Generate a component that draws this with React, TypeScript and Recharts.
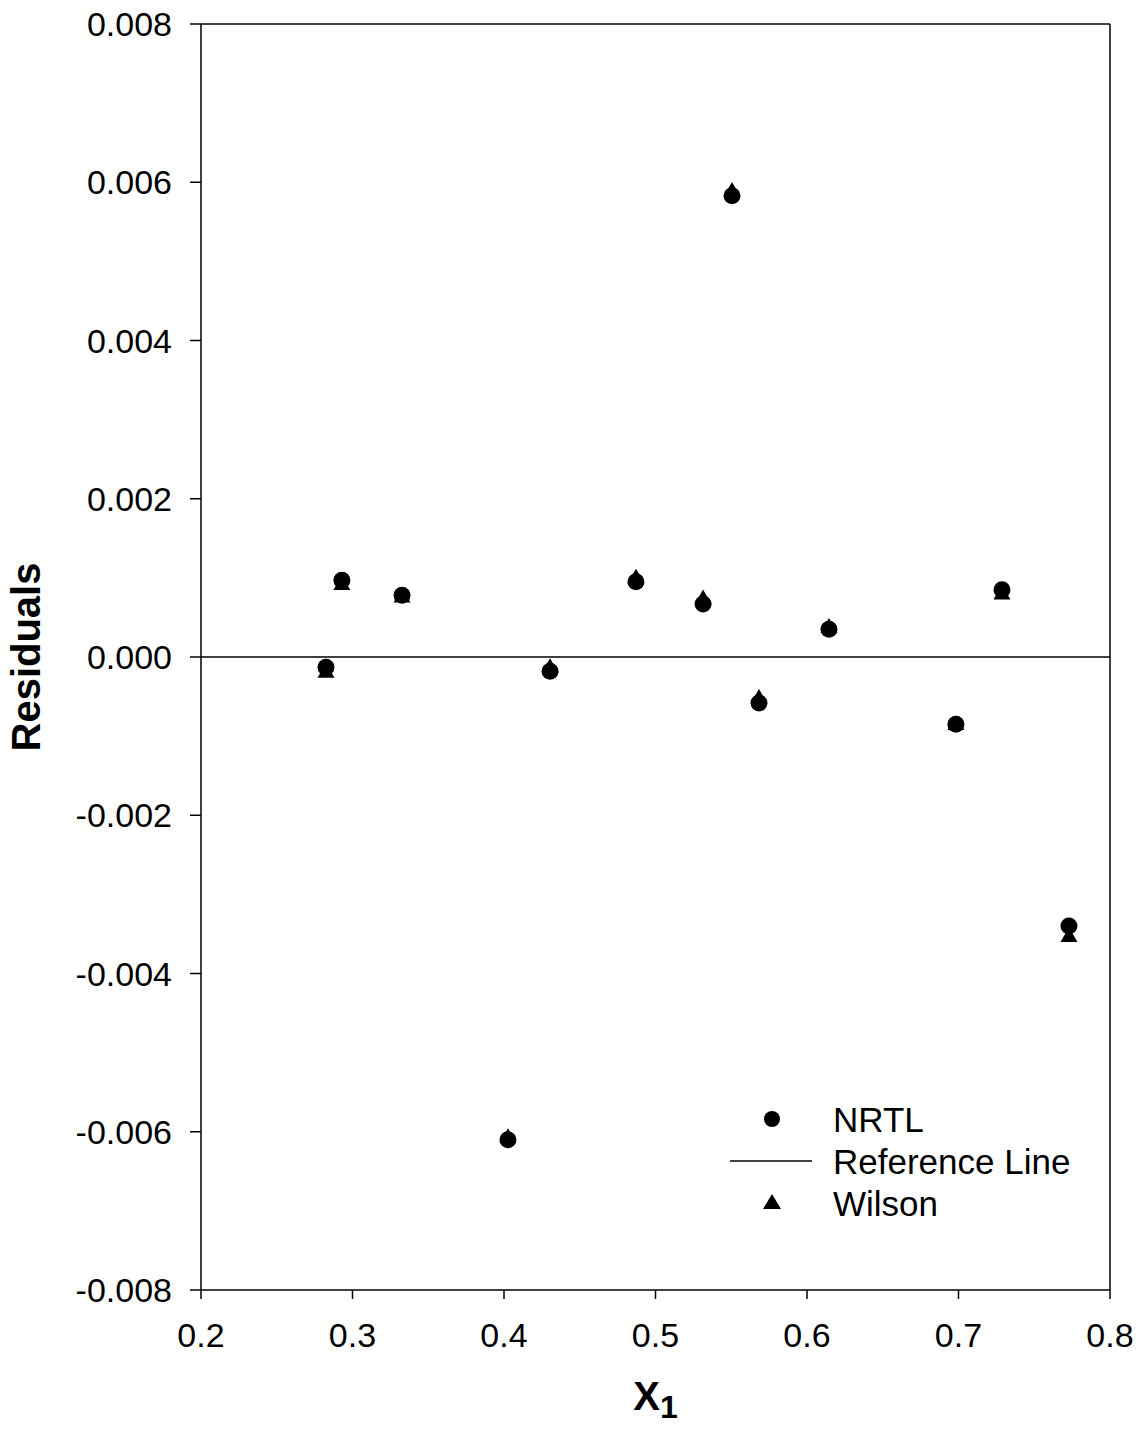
import React from 'react';
import {
  ScatterChart,
  Scatter,
  XAxis,
  YAxis,
  ReferenceLine,
} from 'recharts';

// mole fraction of component 1
const x1 = [0.2825, 0.293, 0.3327, 0.4026, 0.4304, 0.4871, 0.5314, 0.5505, 0.5683, 0.6145, 0.6983, 0.7287, 0.7729];
const nrtlResiduals = [-0.00013, 0.00097, 0.00078, -0.0061, -0.00018, 0.00095, 0.00067, 0.00583, -0.00058, 0.00035, -0.00085, 0.00085, -0.0034];
const wilsonResiduals = [-0.0002, 0.00091, 0.00075, -0.00608, -0.00014, 0.00099, 0.00073, 0.00588, -0.00053, 0.00037, -0.00086, 0.00079, -0.00354];

const xTicks = [0.2, 0.3, 0.4, 0.5, 0.6, 0.7, 0.8];
const yTicks = [-0.008, -0.006, -0.004, -0.002, 0, 0.002, 0.004, 0.006, 0.008];
const legendItems = ['NRTL', 'Reference Line', 'Wilson'];

const nrtlData = x1.map((x, i) => ({ x, y: nrtlResiduals[i] }));
const wilsonData = x1.map((x, i) => ({ x, y: wilsonResiduals[i] }));

const FONT = 'Arial, "Liberation Sans", sans-serif';
const tickStyle = { fontSize: 34, fill: '#000', fontFamily: FONT };

function Dot({ cx, cy }: { cx?: number; cy?: number }) {
  return <circle cx={cx} cy={cy} r={8.5} fill="#000" />;
}

function Tri({ cx, cy }: { cx?: number; cy?: number }) {
  if (cx == null || cy == null) return null;
  const s = 17;
  const h = (s * Math.sqrt(3)) / 2;
  const pts = `${cx},${cy - (2 * h) / 3} ${cx - s / 2},${cy + h / 3} ${cx + s / 2},${cy + h / 3}`;
  return <polygon points={pts} fill="#000" />;
}

// legend sits inside the plot, bottom right
function LegendBox() {
  return (
    <svg width={360} height={130} style={{ position: 'absolute', left: 725, top: 1095, overflow: 'visible' }}>
      {legendItems.map((name, i) => {
        const y = 24 + i * 42;
        return (
          <g key={name}>
            {i === 0 && <circle cx={47} cy={y} r={8} fill="#000" />}
            {i === 1 && <line x1={5} x2={87} y1={y} y2={y} stroke="#000" strokeWidth={1.5} />}
            {i === 2 && <polygon points={`47,${y - 9} 38,${y + 6} 56,${y + 6}`} fill="#000" />}
            <text x={108} y={y + 13} fontSize={35} fontFamily={FONT} fill="#000">
              {name}
            </text>
          </g>
        );
      })}
    </svg>
  );
}

function YLabel({ viewBox }: any) {
  const cy = viewBox.y + viewBox.height / 2;
  const x = viewBox.x + 40;
  return (
    <text
      x={x}
      y={cy}
      transform={`rotate(-90, ${x}, ${cy})`}
      textAnchor="middle"
      fontSize={40}
      fontWeight="bold"
      fontFamily={FONT}
      fill="#000"
    >
      Residuals
    </text>
  );
}

function XLabel({ viewBox }: any) {
  const cx = viewBox.x + viewBox.width / 2;
  const y = viewBox.y + 120;
  return (
    <text x={cx} y={y} textAnchor="middle" fontWeight="bold" fontFamily={FONT} fill="#000">
      <tspan fontSize={40}>X</tspan>
      <tspan fontSize={32} dy={8}>1</tspan>
    </text>
  );
}

export default function App() {
  return (
    <div style={{ position: 'absolute', left: 0, top: 0, width: 1146, height: 1429, background: '#fff' }}>
      <ScatterChart width={1146} height={1429} margin={{ top: 24, right: 36, bottom: 0, left: 0 }}>
        <XAxis
          type="number"
          dataKey="x"
          domain={[0.2, 0.8]}
          ticks={xTicks}
          tickFormatter={(v: number) => v.toFixed(1)}
          tick={tickStyle}
          tickSize={9}
          tickMargin={24}
          height={139}
          stroke="#000"
          strokeWidth={1.5}
          label={<XLabel />}
        />
        <YAxis
          type="number"
          dataKey="y"
          domain={[-0.008, 0.008]}
          ticks={yTicks}
          tickFormatter={(v: number) => v.toFixed(3)}
          tick={tickStyle}
          tickSize={11}
          tickMargin={18}
          width={201}
          stroke="#000"
          strokeWidth={1.5}
          label={<YLabel />}
        />
        {/* frame on top and right */}
        <ReferenceLine y={0.008} stroke="#000" strokeWidth={1.5} />
        <ReferenceLine x={0.8} stroke="#000" strokeWidth={1.5} />
        <ReferenceLine y={0} stroke="#000" strokeWidth={1.5} />
        <Scatter name="Wilson" data={wilsonData} shape={<Tri />} isAnimationActive={false} />
        <Scatter name="NRTL" data={nrtlData} shape={<Dot />} isAnimationActive={false} />
      </ScatterChart>
      <LegendBox />
    </div>
  );
}
